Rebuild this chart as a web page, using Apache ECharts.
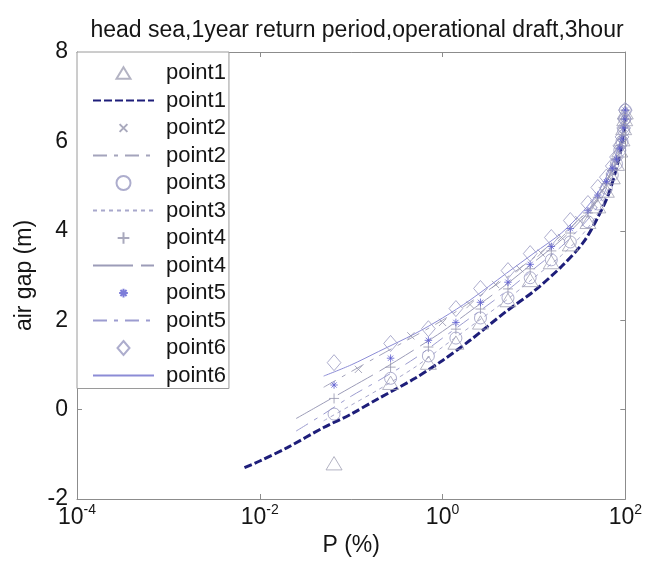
<!DOCTYPE html>
<html>
<head>
<meta charset="utf-8">
<script src="https://cdn.jsdelivr.net/npm/echarts@6/dist/echarts.min.js"></script>
<style>
  html, body { margin: 0; padding: 0; background: #fff; }
  #chart { width: 645px; height: 570px; }
</style>
</head>
<body>
<div id="chart"></div>
<script>
// Exceedance probability (%) vs. air gap (m), six measurement points.
const titleText = 'head sea,1year return period,operational draft,3hour';
const xExponents = [-4, -2, 0, 2];          // x tick labels are 10^e
const yTicks = [-2, 0, 2, 4, 6, 8];

// Probability levels of the sample markers
const probA = [0.065, 0.27, 0.7, 1.4, 2.6, 5.2, 9.1, 15.5, 25, 39, 50, 62, 72, 80, 87, 92, 96, 98.5, 99.9];
const probB = [0.12, 0.45, 1.0, 2.0, 3.8, 7, 12, 20, 31, 45, 56, 67, 76, 84, 90, 94, 97.5, 99.5];

// Sample air gaps (m)
const point1 = [-1.2, 0.6, 1.05, 1.5, 1.95, 2.45, 2.9, 3.3, 3.7, 4.2, 4.55, 4.9, 5.2, 5.5, 5.8, 6.05, 6.3, 6.5, 6.65];
const point2 = [0.9, 1.65, 1.95, 2.35, 2.8, 3.15, 3.5, 3.85, 4.25, 4.6, 4.9, 5.2, 5.45, 5.7, 5.95, 6.15, 6.4, 6.62];
const point3 = [-0.1, 0.7, 1.2, 1.6, 2.05, 2.5, 2.95, 3.35, 3.75, 4.2, 4.6, 4.95, 5.25, 5.5, 5.8, 6.0, 6.25, 6.5, 6.7];
const point4 = [0.25, 0.95, 1.4, 1.8, 2.25, 2.7, 3.15, 3.55, 3.95, 4.4, 4.75, 5.05, 5.35, 5.6, 5.85, 6.05, 6.3, 6.5, 6.7];
const point5 = [0.55, 1.15, 1.55, 1.95, 2.4, 2.85, 3.25, 3.65, 4.05, 4.45, 4.8, 5.1, 5.4, 5.6, 5.85, 6.05, 6.3, 6.5, 6.7];
const point6 = [1.05, 1.48, 1.81, 2.26, 2.71, 3.11, 3.49, 3.85, 4.23, 4.61, 4.97, 5.2, 5.45, 5.65, 5.9, 6.1, 6.3, 6.5, 6.7];

// Fitted distributions
const fitProb1 = [0.0068, 0.01, 0.02, 0.05, 0.1, 0.2, 0.5, 1, 2, 5, 10, 20, 35, 50, 65, 80, 90, 96, 100];
const fit1 = [-1.3, -1.15, -0.85, -0.4, -0.1, 0.25, 0.7, 1.1, 1.55, 2.2, 2.65, 3.2, 3.75, 4.3, 4.8, 5.4, 5.85, 6.25, 6.6];
const fitProb = [0.025, 0.05, 0.1, 0.2, 0.5, 1, 2, 5, 10, 20, 35, 50, 65, 80, 90, 96, 100];
const fit2 = [null, 0.5, 0.85, 1.2, 1.65, 2.0, 2.4, 2.95, 3.4, 3.9, 4.35, 4.75, 5.2, 5.65, 6.05, 6.35, 6.65];
const fit3 = [null, -0.25, 0.1, 0.45, 0.95, 1.4, 1.85, 2.45, 2.95, 3.45, 3.95, 4.4, 4.95, 5.5, 5.9, 6.3, 6.6];
const fit4 = [-0.2, 0.15, 0.5, 0.85, 1.35, 1.75, 2.2, 2.8, 3.3, 3.8, 4.3, 4.7, 5.15, 5.6, 6.0, 6.35, 6.65];
const fit5 = [-0.48, -0.1, 0.3, 0.65, 1.15, 1.6, 2.05, 2.65, 3.15, 3.65, 4.15, 4.55, 5.05, 5.55, 5.95, 6.3, 6.65];
const fit6 = [null, 0.75, 1.0, 1.3, 1.7, 2.05, 2.45, 3.05, 3.5, 3.95, 4.45, 4.85, 5.3, 5.75, 6.1, 6.4, 6.7];

const pairs = (xs, ys) => xs.map((x, i) => [x, ys[i]]).filter(p => p[1] !== null);

const FONT = '"Liberation Sans", Arial, sans-serif';
const AXIS_GRAY = '#8c8c8c';
const TEXT = '#151515';

// Marker outlines; the leading bare moves pad a glyph's box so it sits
// at its own size inside the square legend icon.
const trianglePath = 'path://M6,-1M6,11M6,0L12,10L0,10Z';
const circlePath = 'path://M0,5A5,5,0,1,1,10,5A5,5,0,1,1,0,5Z';
const diamondPath = 'path://M6,0L12,7L6,14L0,7Z';
const crossPath = 'path://M-4,-4M14,14M0,0L10,10M10,0L0,10';
const plusPath = 'path://M-1,-1M11,11M5,0L5,10M0,5L10,5';
const starPath = 'path://M-3,-3M13,13M5,0L5,10M0,5L10,5M1.5,1.5L8.5,8.5M8.5,1.5L1.5,8.5';

function markerSeries(name, xs, ys, symbol, size, color) {
  return {
    name, type: 'scatter', data: pairs(xs, ys), symbol, symbolSize: size, symbolKeepAspect: true,
    itemStyle: { color: 'transparent', borderColor: color, borderWidth: 1 },
    emphasis: { disabled: true }, z: 3
  };
}
function fitSeries(name, xs, ys, color, width, dash) {
  return {
    name, type: 'line', data: pairs(xs, ys), symbol: 'none', smooth: 0.3,
    lineStyle: { color, width, type: dash }, itemStyle: { color },
    emphasis: { disabled: true }, z: 2
  };
}

const series = [
  markerSeries('point1', probA, point1, trianglePath, 16, '#a0a0b4'),
  fitSeries('point1 fit', fitProb1, fit1, '#1e1e7a', 3, [8, 3]),
  markerSeries('point2', probB, point2, crossPath, 13, '#9494ac'),
  fitSeries('point2 fit', fitProb, fit2, '#a4a4bc', 1, [14, 7, 4, 7]),
  markerSeries('point3', probA, point3, circlePath, 12, '#9898c0'),
  fitSeries('point3 fit', fitProb, fit3, '#a8a8cc', 1, [4, 4]),
  markerSeries('point4', probA, point4, plusPath, 12, '#9494ac'),
  fitSeries('point4 fit', fitProb, fit4, '#9c9cb8', 1, [40, 8]),
  markerSeries('point5', probA, point5, starPath, 12, '#5c5cd0'),
  fitSeries('point5 fit', fitProb, fit5, '#9c9cd0', 1, [14, 7, 4, 7]),
  markerSeries('point6', probA, point6, diamondPath, 16, '#9898c0'),
  fitSeries('point6 fit', fitProb, fit6, '#8c8cd6', 1, 'solid')
];

// Line entries in the legend show only their stroke pattern.
const legendData = series.map(s => s.type === 'line'
  ? { name: s.name, itemStyle: { opacity: 0 } }
  : { name: s.name });

const chart = echarts.init(document.getElementById('chart'), null, { renderer: 'canvas' });
chart.setOption({
  animation: false,
  backgroundColor: '#fff',
  title: {
    text: titleText, left: 352, top: 14, textAlign: 'center',
    textStyle: { fontFamily: FONT, fontSize: 23, fontWeight: 'normal', color: TEXT }
  },
  grid: { left: 77, right: 17, top: 52, bottom: 71, containLabel: false },
  legend: {
    orient: 'vertical', left: 77, top: 52,
    padding: [10, 3, 2, 15],
    itemWidth: 61, itemHeight: 14, itemGap: 5.5,
    backgroundColor: '#fff', borderColor: '#9a9a9a', borderWidth: 1, borderRadius: 0,
    textStyle: { fontFamily: FONT, fontSize: 22, color: TEXT, padding: [0, 0, 0, 7] },
    formatter: n => n.split(' ')[0],
    data: legendData,
    selectedMode: false
  },
  xAxis: [{
    type: 'log', logBase: 10, min: 1e-4, max: 1e2, interval: 2,
    name: 'P (%)', nameLocation: 'middle', nameGap: 32,
    nameTextStyle: { fontFamily: FONT, fontSize: 23, color: TEXT },
    axisLine: { onZero: false, lineStyle: { color: AXIS_GRAY, width: 1 } },
    axisTick: { inside: true, length: 5, lineStyle: { color: AXIS_GRAY } },
    splitLine: { show: false }, minorTick: { show: false },
    axisLabel: {
      margin: 4, color: TEXT,
      formatter: v => {
        const e = Math.round(Math.log10(v));
        return xExponents.includes(e) ? '{b|10}{s|' + e + '}' : '';
      },
      rich: {
        b: { fontFamily: FONT, fontSize: 23, color: TEXT, lineHeight: 26, verticalAlign: 'bottom' },
        s: { fontFamily: FONT, fontSize: 14, color: TEXT, lineHeight: 14, verticalAlign: 'top' }
      }
    }
  }, {
    type: 'log', logBase: 10, min: 1e-4, max: 1e2, interval: 2, position: 'top',
    axisLine: { onZero: false, lineStyle: { color: AXIS_GRAY, width: 1 } },
    axisTick: { inside: true, length: 5, lineStyle: { color: AXIS_GRAY } },
    axisLabel: { show: false }, splitLine: { show: false }
  }],
  yAxis: [{
    type: 'value', min: yTicks[0], max: yTicks[yTicks.length - 1], interval: 2,
    name: 'air gap (m)', nameLocation: 'middle', nameGap: 40, nameRotate: 90,
    nameTextStyle: { fontFamily: FONT, fontSize: 23, color: TEXT },
    axisLine: { show: true, onZero: false, lineStyle: { color: AXIS_GRAY, width: 1 } },
    axisTick: { show: true, inside: true, length: 5, lineStyle: { color: AXIS_GRAY } },
    splitLine: { show: false },
    axisLabel: { fontFamily: FONT, fontSize: 23, color: TEXT, margin: 9 }
  }, {
    type: 'value', min: yTicks[0], max: yTicks[yTicks.length - 1], interval: 2, position: 'right',
    axisLine: { show: true, onZero: false, lineStyle: { color: AXIS_GRAY, width: 1 } },
    axisTick: { show: true, inside: true, length: 5, lineStyle: { color: AXIS_GRAY } },
    axisLabel: { show: false }, splitLine: { show: false }
  }],
  series
});
</script>
</body>
</html>
